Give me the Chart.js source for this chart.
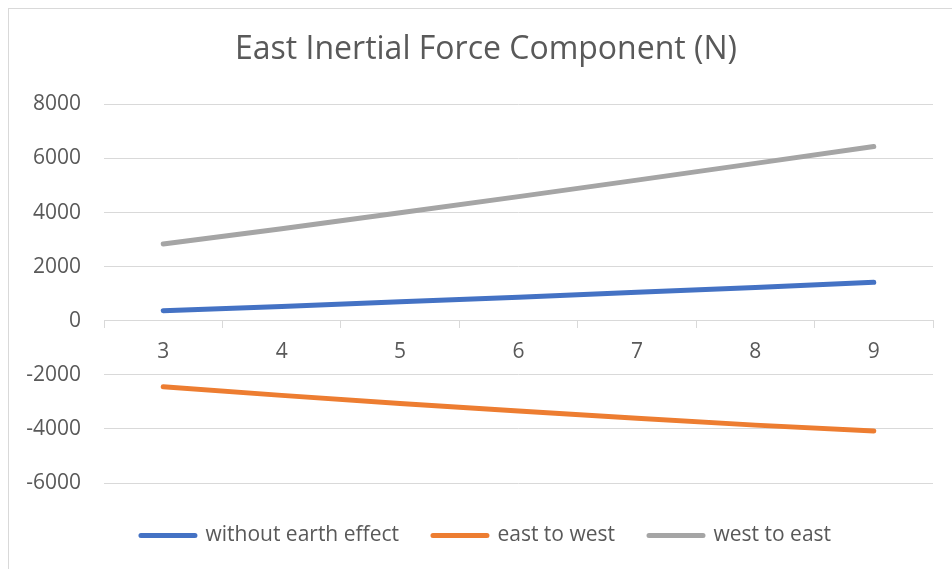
<!DOCTYPE html>
<html>
<head>
<meta charset="utf-8">
<script src="https://cdn.jsdelivr.net/npm/chart.js@4.4.1/dist/chart.umd.min.js"></script>
<style>
  html, body { margin: 0; padding: 0; background: #fff; overflow: hidden; }
  #frame {
    position: absolute; left: 8px; top: 8px;
    width: 990px; height: 620px;
    border: 1px solid #d9d9d9;
  }
  #wrap { position: absolute; left: 0; top: 0; width: 954px; height: 547px; }
</style>
</head>
<body>
<div id="frame">
  <div id="wrap"><canvas id="chart"></canvas></div>
</div>
<script>
const categories = ["3", "4", "5", "6", "7", "8", "9"];
const withoutEarth = [370, 530, 700, 870, 1050, 1230, 1420];
const eastToWest = [-2440, -2760, -3060, -3340, -3610, -3860, -4080];
const westToEast = [2840, 3400, 3990, 4590, 5200, 5820, 6440];
const yTicks = [-6000, -4000, -2000, 0, 2000, 4000, 6000, 8000];

const textColor = "#595959";
const gridColor = "#d9d9d9";

Chart.defaults.font.family = "'Open Sans', sans-serif";
Chart.defaults.color = textColor;

function series(label, data, color) {
  return {
    label,
    data,
    borderColor: color,
    backgroundColor: color,
    borderWidth: 5,
    borderCapStyle: "round",
    borderJoinStyle: "round",
    pointRadius: 0,
    pointHoverRadius: 0,
    tension: 0
  };
}

new Chart(document.getElementById("chart"), {
  type: "line",
  data: {
    labels: categories,
    datasets: [
      series("without earth effect", withoutEarth, "#4472C4"),
      series("east to west", eastToWest, "#ED7D31"),
      series("west to east", westToEast, "#A5A5A5")
    ]
  },
  options: {
    responsive: true,
    maintainAspectRatio: false,
    animation: false,
    layout: { padding: 0 },
    plugins: {
      title: {
        display: true,
        text: "East Inertial Force Component (N)",
        color: textColor,
        font: { size: 32, weight: "normal" },
        padding: { top: 22, bottom: 35 }
      },
      legend: {
        position: "bottom",
        // empty title only adds a little space above the legend row
        title: { display: true, text: " ", font: { size: 8, lineHeight: 1 }, padding: 0 },
        labels: {
          color: textColor,
          font: { size: 21 },
          boxWidth: 54,
          boxHeight: 0,
          padding: 34
        }
      },
      tooltip: { enabled: false }
    },
    scales: {
      x: {
        type: "category",
        position: { y: 0 },
        offset: true,
        grid: {
          offset: true,
          drawOnChartArea: false,
          drawTicks: true,
          tickLength: 7,
          color: gridColor
        },
        border: { display: true, color: gridColor, width: 1 },
        ticks: { color: textColor, font: { size: 21 }, padding: 12 }
      },
      y: {
        min: -6000,
        max: 8000,
        afterBuildTicks: (axis) => {
          axis.ticks = yTicks.map((v) => ({ value: v }));
        },
        afterFit: (axis) => { axis.width = 95; },
        grid: { color: gridColor, drawTicks: false, lineWidth: 1 },
        border: { display: false },
        ticks: {
          color: textColor,
          font: { size: 21 },
          padding: 23,
          callback: (v) => String(v)
        }
      },
      pad: {
        position: "right",
        display: true,
        afterFit: (axis) => { axis.width = 30; },
        grid: { display: false },
        border: { display: false },
        ticks: { display: false }
      }
    }
  }
});
</script>
</body>
</html>
